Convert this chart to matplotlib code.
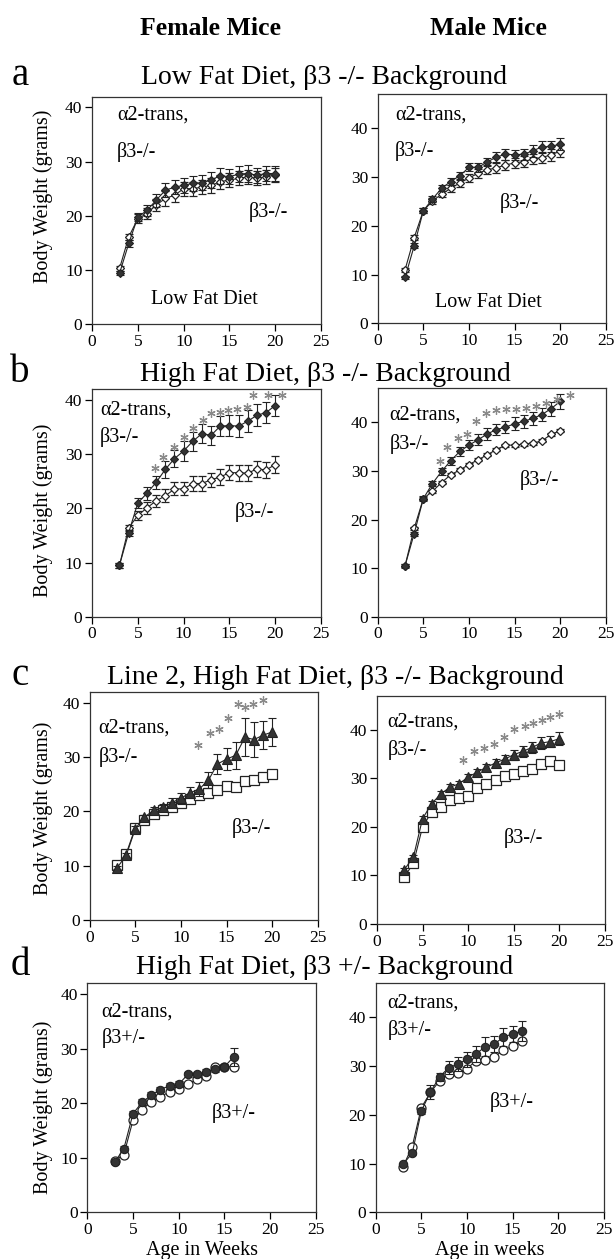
"""
Body weight curves of alpha2-transgenic vs beta3 knockout mice,
four diet/background conditions, female (left) and male (right).
"""

import matplotlib
matplotlib.use('Agg')
import matplotlib.pyplot as plt

plt.rcParams['font.family'] = ['Liberation Serif', 'DejaVu Serif']

weeks_20 = [3, 4, 5, 6, 7, 8, 9, 10, 11, 12, 13, 14, 15, 16, 17, 18, 19, 20]
weeks_16 = [3, 4, 5, 6, 7, 8, 9, 10, 11, 12, 13, 14, 15, 16]

# --- a: low fat diet, b3 -/- background
a_female_trans = [9.4, 14.9, 19.8, 21.0, 22.9, 24.7, 25.3, 25.6, 26.0, 26.1, 26.6, 27.4, 27.2, 27.7, 27.8, 27.5, 27.8, 27.8]
a_female_trans_err = [0.4, 0.6, 0.8, 1.0, 1.2, 1.3, 1.3, 1.4, 1.4, 1.4, 1.4, 1.5, 1.4, 1.5, 1.5, 1.4, 1.4, 1.4]
a_female_ko = [10.3, 16.1, 19.5, 20.4, 22.0, 23.2, 23.8, 25.0, 25.0, 25.3, 25.6, 26.3, 26.6, 26.9, 27.2, 26.9, 27.2, 27.5]
a_female_ko_err = [0.4, 0.5, 0.8, 1.0, 1.1, 1.3, 1.3, 1.3, 1.3, 1.3, 1.3, 1.3, 1.3, 1.3, 1.3, 1.3, 1.3, 1.3]
a_male_trans = [9.4, 15.9, 23.1, 25.5, 27.7, 29.1, 30.3, 32.0, 32.0, 33.1, 34.1, 34.7, 34.6, 34.7, 35.4, 36.2, 36.3, 36.8]
a_male_trans_err = [0.4, 0.5, 0.5, 0.6, 0.6, 0.7, 0.8, 0.8, 0.9, 0.9, 1.0, 1.1, 1.0, 1.1, 1.2, 1.2, 1.2, 1.2]
a_male_ko = [11.0, 17.6, 23.1, 25.1, 26.5, 27.7, 28.8, 29.8, 30.8, 31.5, 31.9, 32.5, 32.9, 33.2, 33.7, 34.0, 34.6, 35.3]
a_male_ko_err = [0.4, 0.5, 0.5, 0.6, 0.6, 0.7, 0.8, 0.8, 0.9, 0.9, 1.0, 1.0, 1.0, 1.1, 1.1, 1.2, 1.2, 1.2]

# --- b: high fat diet, b3 -/- background
b_female_trans = [9.5, 15.5, 21.0, 22.8, 24.8, 27.2, 29.2, 30.6, 32.4, 33.8, 33.5, 35.2, 35.3, 35.2, 36.1, 37.2, 37.7, 39.0]
b_female_trans_err = [0.5, 0.6, 1.0, 1.2, 1.2, 1.5, 1.6, 1.8, 1.8, 1.8, 1.8, 1.8, 2.0, 2.0, 2.0, 2.0, 2.0, 2.0]
b_female_ko = [9.5, 16.4, 18.7, 20.1, 21.4, 22.3, 23.6, 23.6, 24.6, 24.6, 25.3, 25.8, 26.6, 26.6, 26.5, 27.3, 27.1, 28.1]
b_female_ko_err = [0.5, 0.5, 0.9, 1.1, 1.1, 1.2, 1.2, 1.2, 1.3, 1.3, 1.3, 1.4, 1.4, 1.5, 1.5, 1.5, 1.5, 1.5]
b_female_star_x = [6.9, 7.8, 9.0, 10.0, 11.0, 12.1, 13.0, 14.0, 14.9, 15.8, 16.9, 17.6, 19.2, 20.7]
b_female_star_y = [27.4, 29.5, 31.3, 33.1, 34.8, 36.4, 37.6, 37.8, 38.1, 38.3, 38.7, 40.9, 40.9, 40.9]
b_male_trans = [10.5, 17.1, 24.3, 27.4, 29.9, 32.1, 34.0, 35.3, 36.4, 37.6, 38.5, 39.0, 39.7, 40.2, 40.8, 41.6, 42.8, 44.3]
b_male_trans_err = [0.4, 0.4, 0.5, 0.6, 0.7, 0.8, 0.9, 1.0, 1.1, 1.2, 1.2, 1.3, 1.3, 1.3, 1.3, 1.3, 1.4, 1.5]
b_male_ko = [10.5, 18.2, 24.3, 25.8, 27.6, 29.2, 30.2, 31.3, 32.3, 33.3, 34.4, 35.3, 35.3, 35.5, 35.7, 36.2, 37.5, 38.3]
b_male_ko_err = [0.3] * 18
b_male_star_x = [6.8, 7.6, 8.8, 9.8, 10.8, 11.9, 13.0, 14.1, 15.2, 16.3, 17.4, 18.5, 19.6, 21.1]
b_male_star_y = [32.0, 34.9, 36.8, 37.5, 40.2, 41.9, 42.6, 42.8, 42.8, 43.0, 43.3, 44.0, 44.7, 45.7]

# --- c: line 2, high fat diet, b3 -/- background
c_female_trans = [9.6, 11.9, 16.8, 18.9, 20.2, 20.7, 21.6, 22.4, 23.4, 24.1, 25.7, 28.7, 29.6, 30.3, 33.6, 33.2, 34.0, 34.6]
c_female_trans_err = [0.3, 0.4, 0.5, 0.5, 0.6, 0.6, 0.8, 1.0, 1.0, 1.2, 1.5, 1.8, 2.0, 2.5, 3.5, 3.2, 2.6, 2.6]
c_female_ko = [10.1, 12.2, 17.0, 18.4, 19.5, 20.2, 20.8, 21.6, 22.2, 23.0, 23.4, 23.9, 24.7, 24.5, 25.6, 25.7, 26.3, 26.9]
c_female_ko_err = [0.3] * 18
c_female_star_x = [11.9, 13.2, 14.2, 15.2, 16.3, 17.0, 17.9, 19.0]
c_female_star_y = [32.2, 34.4, 35.2, 37.1, 39.8, 39.2, 39.8, 40.4]
c_male_trans = [11.2, 13.8, 21.7, 24.8, 26.8, 28.2, 28.9, 30.3, 31.3, 32.3, 33.2, 34.0, 34.9, 35.6, 36.4, 37.3, 37.6, 38.2]
c_male_trans_err = [0.4, 0.5, 0.6, 0.6, 0.6, 0.6, 0.6, 0.7, 0.7, 0.7, 0.8, 0.8, 1.0, 1.1, 1.1, 1.2, 1.2, 1.3]
c_male_ko = [9.7, 12.5, 20.0, 23.1, 24.1, 25.5, 26.0, 26.3, 28.1, 28.8, 29.7, 30.5, 31.0, 31.6, 32.0, 32.9, 33.5, 32.8]
c_male_ko_err = [0.3] * 18
c_male_star_x = [9.4, 10.6, 11.7, 12.8, 13.9, 15.0, 16.2, 17.1, 18.1, 19.0, 20.0]
c_male_star_y = [33.8, 35.7, 36.3, 37.2, 38.6, 40.2, 40.9, 41.5, 42.0, 42.6, 43.3]

# --- d: high fat diet, b3 +/- background
d_female_trans = [9.2, 11.7, 18.1, 20.2, 21.5, 22.5, 23.2, 23.5, 25.3, 25.3, 25.8, 26.2, 26.7, 28.5]
d_female_trans_err = [0.3, 0.4, 0.5, 0.5, 0.5, 0.5, 0.5, 0.5, 0.5, 0.5, 0.5, 0.5, 0.5, 1.6]
d_female_ko = [9.5, 10.6, 16.9, 18.8, 20.3, 21.2, 22.1, 22.7, 23.5, 24.4, 25.0, 26.7, 26.7, 26.7]
d_female_ko_err = [0.3] * 14
d_male_trans = [9.9, 12.1, 20.8, 24.7, 27.8, 29.7, 30.4, 31.4, 32.5, 34.0, 34.5, 36.0, 36.6, 37.2]
d_male_trans_err = [0.3, 0.4, 0.6, 1.5, 0.8, 1.3, 1.4, 1.5, 1.7, 1.9, 1.6, 1.8, 1.6, 2.0]
d_male_ko = [9.4, 13.5, 21.5, 24.6, 27.0, 28.4, 28.6, 29.5, 31.1, 31.2, 31.9, 33.3, 34.1, 35.2]
d_male_ko_err = [0.3] * 14

W, H = 616, 1259


def px_rect(x, w, top, bottom):
    """Convert a pixel box (y measured from the top) to figure fractions."""
    return [x / W, 1 - bottom / H, w / W, (bottom - top) / H]


def fig_text(fig, x, y, s, **kw):
    fig.text(x / W, 1 - y / H, s, **kw)


def draw_panel(ax, weeks, trans, trans_err, ko, ko_err, markers, ymax,
               stars=None, labels=None, ylabel_pos=None, xlabel=None):
    t_marker, k_marker, t_size, k_size = markers
    ax.errorbar(weeks, ko, yerr=ko_err, color='#222222', lw=0.8, elinewidth=0.8,
                capsize=3, capthick=0.8, marker=k_marker, ms=k_size,
                mfc='white', mec='#222222', mew=0.9, zorder=3)
    ax.errorbar(weeks, trans, yerr=trans_err, color='#222222', lw=0.8, elinewidth=0.8,
                capsize=3, capthick=0.8, marker=t_marker, ms=t_size,
                mfc='#333333', mec='#222222', mew=0.8, zorder=4)
    if stars is not None:
        ax.plot(stars[0], stars[1], ls='none', marker=(6, 2, 0), ms=6,
                mec='#8a8a8a', mew=0.9, zorder=5, clip_on=False)

    ax.set_xlim(0, 25)
    ax.set_ylim(0, ymax)
    ax.set_xticks([0, 5, 10, 15, 20, 25])
    ax.set_yticks([0, 10, 20, 30, 40])
    ax.tick_params(direction='out', length=5, width=0.9, labelsize=12.5, pad=2)
    for sp in ax.spines.values():
        sp.set_linewidth(0.9)
        sp.set_color('#333333')

    for fx, fy, s, ha in labels:
        ax.text(fx, fy, s, transform=ax.transAxes, fontsize=14.5, ha=ha, va='center')

    if ylabel_pos is not None:
        ax.set_ylabel('Body Weight (grams)', fontsize=14.5)
        ax.yaxis.set_label_coords(*ylabel_pos)
        ax.yaxis.label.set_va('center')
    if xlabel is not None:
        ax.set_xlabel(xlabel, fontsize=14.5)
        ax.xaxis.set_label_coords(0.5, -0.165)
        ax.xaxis.label.set_va('center')


def main():
    fig = plt.figure(figsize=(W / 100, H / 100), dpi=100)

    diamonds = ('D', 'D', 4.5, 4.5)
    tri_sq = ('^', 's', 6.5, 6.5)
    circles = ('o', 'o', 6, 6.5)

    # --- row a
    ax = fig.add_axes(px_rect(92.1, 228.9, 96.5, 324.3))
    draw_panel(ax, weeks_20, a_female_trans, a_female_trans_err, a_female_ko, a_female_ko_err,
               diamonds, 42,
               labels=[(0.109, 0.919, 'α2-trans,', 'left'), (0.109, 0.756, 'β3-/-', 'left'),
                       (0.685, 0.493, 'β3-/-', 'left'), (0.489, 0.107, 'Low Fat Diet', 'center')],
               ylabel_pos=(-0.215, 0.563))
    ax = fig.add_axes(px_rect(377.7, 228.1, 94.3, 323.3))
    draw_panel(ax, weeks_20, a_male_trans, a_male_trans_err, a_male_ko, a_male_ko_err,
               diamonds, 47,
               labels=[(0.076, 0.91, 'α2-trans,', 'left'), (0.076, 0.752, 'β3-/-', 'left'),
                       (0.536, 0.525, 'β3-/-', 'left'), (0.484, 0.093, 'Low Fat Diet', 'center')])

    # --- row b
    ax = fig.add_axes(px_rect(92.0, 229.0, 389.3, 616.7))
    draw_panel(ax, weeks_20, b_female_trans, b_female_trans_err, b_female_ko, b_female_ko_err,
               diamonds, 42, stars=(b_female_star_x, b_female_star_y),
               labels=[(0.035, 0.909, 'α2-trans,', 'left'), (0.035, 0.79, 'β3-/-', 'left'),
                       (0.624, 0.46, 'β3-/-', 'left')],
               ylabel_pos=(-0.214, 0.469))
    ax = fig.add_axes(px_rect(377.7, 228.1, 388.3, 616.7))
    draw_panel(ax, weeks_20, b_male_trans, b_male_trans_err, b_male_ko, b_male_ko_err,
               diamonds, 47, stars=(b_male_star_x, b_male_star_y),
               labels=[(0.052, 0.883, 'α2-trans,', 'left'), (0.052, 0.756, 'β3-/-', 'left'),
                       (0.624, 0.598, 'β3-/-', 'left')])

    # --- row c
    ax = fig.add_axes(px_rect(89.7, 228.2, 691.7, 920.0))
    draw_panel(ax, weeks_20, c_female_trans, c_female_trans_err, c_female_ko, c_female_ko_err,
               tri_sq, 42, stars=(c_female_star_x, c_female_star_y),
               labels=[(0.038, 0.841, 'α2-trans,', 'left'), (0.038, 0.714, 'β3-/-', 'left'),
                       (0.624, 0.403, 'β3-/-', 'left')],
               ylabel_pos=(-0.205, 0.49))
    ax = fig.add_axes(px_rect(376.9, 228.1, 696.0, 924.0))
    draw_panel(ax, weeks_20, c_male_trans, c_male_trans_err, c_male_ko, c_male_ko_err,
               tri_sq, 47, stars=(c_male_star_x, c_male_star_y),
               labels=[(0.046, 0.887, 'α2-trans,', 'left'), (0.046, 0.763, 'β3-/-', 'left'),
                       (0.555, 0.376, 'β3-/-', 'left')])

    # --- row d
    ax = fig.add_axes(px_rect(87.3, 228.6, 983.3, 1212.3))
    draw_panel(ax, weeks_16, d_female_trans, d_female_trans_err, d_female_ko, d_female_ko_err,
               circles, 42,
               labels=[(0.062, 0.876, 'α2-trans,', 'left'), (0.062, 0.76, 'β3+/-', 'left'),
                       (0.544, 0.435, 'β3+/-', 'left')],
               ylabel_pos=(-0.194, 0.458), xlabel='Age in Weeks')
    ax = fig.add_axes(px_rect(375.7, 228.2, 983.3, 1212.3))
    draw_panel(ax, weeks_16, d_male_trans, d_male_trans_err, d_male_ko, d_male_ko_err,
               circles, 47,
               labels=[(0.052, 0.913, 'α2-trans,', 'left'), (0.052, 0.796, 'β3+/-', 'left'),
                       (0.5, 0.483, 'β3+/-', 'left')],
               xlabel='Age in weeks')

    # headers, panel letters and row titles
    fig_text(fig, 211, 35, 'Female Mice', fontsize=18.5, fontweight='bold', ha='center', va='baseline')
    fig_text(fig, 488, 35, 'Male Mice', fontsize=18.5, fontweight='bold', ha='center', va='baseline')

    rows = [('a', 85, 'Low Fat Diet, β3 -/- Background', 324),
            ('b', 382, 'High Fat Diet, β3 -/- Background', 325),
            ('c', 685, 'Line 2, High Fat Diet, β3 -/- Background', 335),
            ('d', 975, 'High Fat Diet, β3 +/- Background', 325)]
    for letter, base, title, cx in rows:
        fig_text(fig, 20, base, letter, fontsize=28, ha='center', va='baseline')
        fig_text(fig, cx, base - 1, title, fontsize=20, ha='center', va='baseline')

    fig.savefig('out.png', dpi=100)


if __name__ == '__main__':
    main()
